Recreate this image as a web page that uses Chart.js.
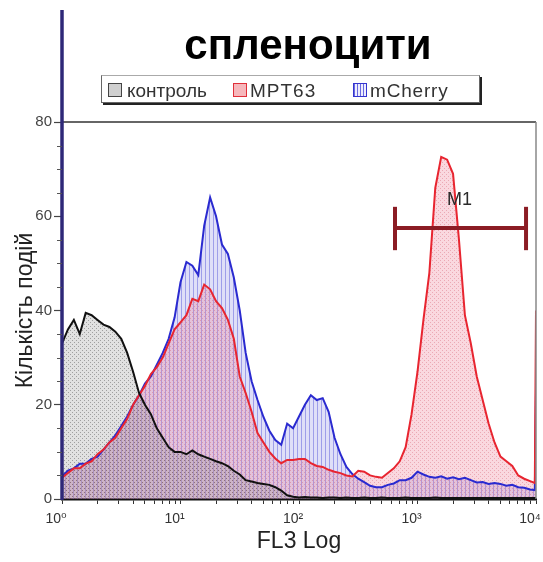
<!DOCTYPE html>
<html>
<head>
<meta charset="utf-8">
<script src="https://cdn.jsdelivr.net/npm/chart.js@4/dist/chart.umd.min.js"></script>
<style>
  html, body { margin: 0; padding: 0; background: #fff; }
  #wrap { position: relative; width: 543px; height: 562px; overflow: hidden; font-family: "Liberation Sans", Arial, sans-serif; }
  #c { position: absolute; left: 0; top: 0; }
  #title { position: absolute; left: 308px; top: 24px; transform: translateX(-50%); font-size: 42px; line-height: 42px; font-weight: bold; color: #000; white-space: nowrap; }
  #legend { position: absolute; left: 101px; top: 75px; width: 377px; height: 26px; border: 1px solid #666; border-top-color: #aaa; box-shadow: 2px 2px 0 #222; background: #fff; }
  .lbox { position: absolute; top: 7px; width: 12px; height: 12px; }
  .ltxt { position: absolute; top: 5px; font-size: 19px; line-height: 19px; color: #333; white-space: nowrap; }
</style>
</head>
<body>
<div id="wrap">
  <canvas id="c" width="543" height="562"></canvas>
  <div id="title">спленоцити</div>
  <div id="legend">
    <div class="lbox" style="left:6px;border:1.5px solid #444;background:#cfcfcf;"></div>
    <div class="ltxt" style="left:25px;">контроль</div>
    <div class="lbox" style="left:131px;border:1.5px solid #e0303a;background:#f6b8bc;"></div>
    <div class="ltxt" style="left:148px;letter-spacing:1px;">MPT63</div>
    <div class="lbox" style="left:251px;border:1.5px solid #3535d0;background:repeating-linear-gradient(90deg,#6a6ae0 0 1px,#eef 1px 3px);"></div>
    <div class="ltxt" style="left:268px;letter-spacing:0.8px;">mCherry</div>
  </div>
</div>
<script>
// ---- data (FL3 channel positions in log10 units, counts per channel) ----
const fl3Log = [
  0,0.05,0.1,0.15,0.2,0.25,0.3,0.35,0.4,0.45,0.5,0.55,0.6,0.65,0.7,0.75,0.8,0.85,0.9,0.95,
  1,1.05,1.1,1.15,1.2,1.25,1.3,1.35,1.4,1.45,1.5,1.55,1.6,1.65,1.7,1.75,1.8,1.85,1.9,1.95,
  2,2.05,2.1,2.15,2.2,2.25,2.3,2.35,2.4,2.45,2.5,2.55,2.6,2.65,2.7,2.75,2.8,2.85,2.9,2.95,
  3,3.05,3.1,3.15,3.2,3.25,3.3,3.35,3.4,3.45,3.5,3.55,3.6,3.65,3.7,3.75,3.8,3.85,3.9,3.95,
  3.99,4
];
const control = [
  33,36,38,35,39.5,39,38,37,36.5,35.5,34,31,27,22.5,20,18,15,13,11,10,
  10,9.5,10.3,9.5,9,8.5,8,7.6,7,6,5.2,4,3.7,3.4,3.2,3,2.5,1.8,0.8,0.5,
  0.3,0.4,0.3,0.3,0.2,0.3,0.3,0.2,0.3,0.2,0.2,0.3,0.2,0.2,0.3,0.2,0.2,0.2,0.3,0.2,
  0.2,0.2,0.2,0.3,0.2,0.2,0.2,0.2,0.2,0.2,0.2,0.2,0.2,0.2,0.2,0.2,0.2,0.2,0.2,0.2,
  0.2,0.2
];
const mpt63 = [
  4.5,5.5,6.5,6.5,7.5,8,9.5,10.5,12,13,15,17,20,22,24,26.5,28,30,33,36,
  37.5,39,42.5,42,45.5,44.5,42,40.5,38,34,26,22.5,18.5,14,12,10,8.6,7.6,8.3,8.3,
  8.5,8.5,7.6,7,6.8,6.2,5.8,5.5,5,4.8,6,5.8,5,4.7,4.5,5.5,6.5,8,11,18,
  27,38,48,66,72.6,72,69,55,39,33,26,21,16,12,9,8,7,5,4.3,3.8,
  3.4,40
];
const mCherry = [
  4.8,6,6.5,7.5,7.5,8.5,9,10.5,12,13.5,15.5,17.5,20,22,24.5,26,28.5,31,34,38.5,
  46,50.3,49.5,47.5,58,64,60,54,52,47,40,31,25,21,17.4,14.5,12.5,11.5,16,15,
  17.5,20,22,21,21.4,18.5,13,9.5,6.8,5.3,4.3,3.6,2.8,2.5,2.5,3,3.3,4,4,4.5,
  5.8,5.2,4.7,4.5,4.8,4.3,4.6,4.2,4.5,4,3.5,3.6,3.2,3.4,3.2,2.8,3,2.5,2.4,2,
  1.9,23
];
const seriesNames = ['контроль', 'MPT63', 'mCherry'];
const decadeLabels = ['10⁰', '10¹', '10²', '10³', '10⁴'];
const decadeValues = [1, 10, 100, 1000, 10000];
const yTicks = [0, 20, 40, 60, 80];
// M1 gate marker (FL3 range and level in data units)
const m1Range = [646, 8240];
const m1Level = 57.5;
const m1Cap = [52.8, 62];
const m1Label = { text: 'M1', x: 2262, y: 63.4 };

// ---- build ----
const canvas = document.getElementById('c');
const ctx = canvas.getContext('2d');
function pattern(base, mark, kind) {
  const c = document.createElement('canvas');
  c.width = 4; c.height = 4;
  const g = c.getContext('2d');
  g.fillStyle = base; g.fillRect(0, 0, 4, 4);
  g.fillStyle = mark;
  if (kind === 'dots') { g.fillRect(0, 0, 1, 1); g.fillRect(2, 2, 1, 1); }
  else { g.fillRect(1, 0, 1, 4); }
  return ctx.createPattern(c, 'repeat');
}
const toPts = vals => fl3Log.map((L, i) => ({ x: Math.pow(10, L), y: vals[i] }));

const fillDs = (vals, bg, order) => ({ data: toPts(vals), fill: 'origin', backgroundColor: bg, borderWidth: 0, pointRadius: 0, order });
const lineDs = (label, vals, color, order) => ({ label, data: toPts(vals), fill: false, borderColor: color, borderWidth: 2, pointRadius: 0, order });
const markDs = (pts) => ({ data: pts, fill: false, borderColor: '#8b1c24', borderWidth: 4, pointRadius: 0, order: 0, borderCapStyle: 'butt' });

const tickValues = [];
decadeValues.forEach((d, i) => {
  if (i < decadeValues.length - 1) { for (let m = 1; m <= 9; m++) tickValues.push(d * m); }
  else tickValues.push(d);
});

const FONT = "'Liberation Sans', Arial, 'DejaVu Sans', sans-serif";

const framePlugin = {
  id: 'frame',
  afterDatasetsDraw(chart) {
    const { ctx, chartArea: a, scales } = chart;
    ctx.save();
    ctx.strokeStyle = '#666'; ctx.lineWidth = 2;
    ctx.beginPath(); ctx.moveTo(a.left, a.top); ctx.lineTo(a.right, a.top); ctx.stroke();
    ctx.strokeStyle = '#888'; ctx.lineWidth = 1.5;
    ctx.beginPath(); ctx.moveTo(a.right, a.top); ctx.lineTo(a.right, a.bottom); ctx.stroke();
    ctx.strokeStyle = '#2e2878'; ctx.lineWidth = 3.5;
    ctx.beginPath(); ctx.moveTo(a.left, 10); ctx.lineTo(a.left, a.bottom + 1); ctx.stroke();
    const y = scales.y;
    ctx.strokeStyle = '#555'; ctx.lineWidth = 1;
    for (let v = 5; v < 80; v += 5) {
      if (v % 20 === 0) continue;
      const py = Math.round(y.getPixelForValue(v)) + 0.5;
      ctx.beginPath(); ctx.moveTo(a.left - 5, py); ctx.lineTo(a.left, py); ctx.stroke();
    }
    ctx.fillStyle = '#2a2a2a';
    ctx.font = '18px ' + FONT;
    ctx.textAlign = 'center'; ctx.textBaseline = 'middle';
    ctx.fillText(m1Label.text, scales.x.getPixelForValue(m1Label.x), y.getPixelForValue(m1Label.y));
    ctx.restore();
  }
};

new Chart(ctx, {
  type: 'line',
  data: {
    datasets: [
      fillDs(control, pattern('rgba(140,140,140,0.26)', 'rgba(60,60,60,0.40)', 'dots'), 10),
      fillDs(mpt63, pattern('rgba(240,125,150,0.30)', 'rgba(200,60,80,0.30)', 'dots'), 11),
      fillDs(mCherry, pattern('rgba(150,150,232,0.30)', 'rgba(80,80,215,0.45)', 'lines'), 12),
      lineDs(seriesNames[2], mCherry, '#2a2ad0', 5),
      lineDs(seriesNames[1], mpt63, '#e82530', 4),
      lineDs(seriesNames[0], control, '#111111', 3),
      markDs([{ x: m1Range[0], y: m1Level }, { x: m1Range[1], y: m1Level }]),
      markDs([{ x: m1Range[0], y: m1Cap[0] }, { x: m1Range[0], y: m1Cap[1] }]),
      markDs([{ x: m1Range[1], y: m1Cap[0] }, { x: m1Range[1], y: m1Cap[1] }])
    ]
  },
  options: {
    responsive: false,
    animation: false,
    layout: { padding: { top: 122, right: 7, bottom: 0, left: 0 } },
    plugins: { legend: { display: false }, tooltip: { enabled: false } },
    elements: { line: { tension: 0 } },
    scales: {
      x: {
        type: 'logarithmic', min: 1, max: 10000,
        afterBuildTicks: s => { s.ticks = tickValues.map(v => ({ value: v, major: decadeValues.includes(v) })); },
        afterFit: s => { s.height = 63; s.paddingLeft = 0; s.paddingRight = 0; },
        ticks: {
          autoSkip: false, maxRotation: 0, minRotation: 0, labelOffset: -6, padding: 7,
          color: '#333', font: { size: 14, family: FONT },
          callback: v => { const i = decadeValues.indexOf(v); return i >= 0 ? decadeLabels[i] : ''; }
        },
        grid: { drawOnChartArea: false, tickLength: 5, tickColor: '#333', tickWidth: 1 },
        border: { display: true, color: '#111', width: 2.5 },
        title: { display: true, text: 'FL3 Log', color: '#222', font: { size: 23, family: FONT }, padding: { top: 0, bottom: 7 } }
      },
      y: {
        min: 0, max: 80,
        afterBuildTicks: s => { s.ticks = yTicks.map(v => ({ value: v })); },
        afterFit: s => { s.width = 62; },
        ticks: { padding: 2, color: '#444', font: { size: 15, family: FONT } },
        grid: { drawOnChartArea: false, tickLength: 8, tickColor: '#444', tickWidth: 1.2 },
        border: { display: false },
        title: { display: true, text: 'Кількість подій', color: '#222', font: { size: 23, family: FONT }, padding: { top: 12, bottom: 0 } }
      }
    }
  },
  plugins: [framePlugin]
});
</script>
</body>
</html>
